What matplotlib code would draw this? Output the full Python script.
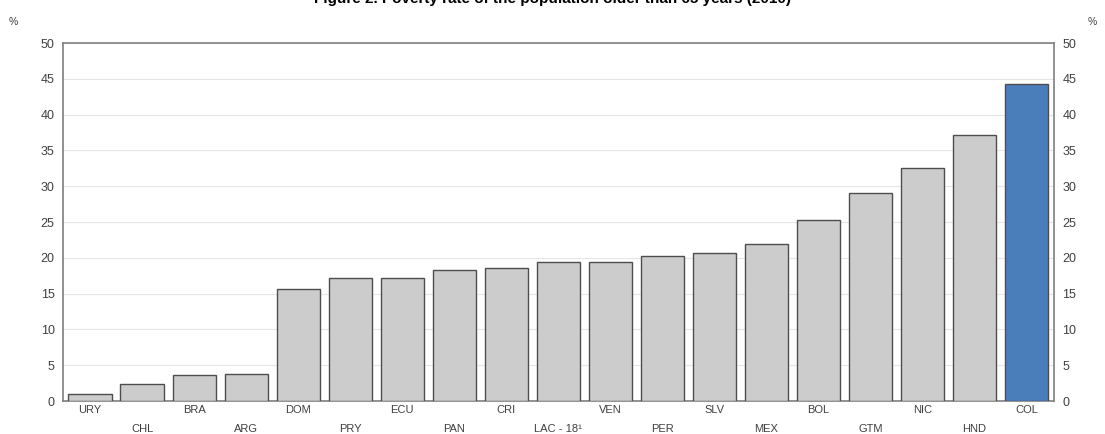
import numpy as np
import matplotlib.pyplot as plt

plt.rcParams['font.family'] = ['Liberation Sans', 'DejaVu Sans']

# -------------------- Data --------------------
countries = ['URY', 'CHL', 'BRA', 'ARG', 'DOM', 'PRY', 'ECU', 'PAN', 'CRI', 'LAC - 18¹',
             'VEN', 'PER', 'SLV', 'MEX', 'BOL', 'GTM', 'NIC', 'HND', 'COL']
poverty = [1.0, 2.4, 3.6, 3.8, 15.6, 17.2, 17.2, 18.3, 18.6, 19.4,
           19.4, 20.2, 20.7, 21.9, 25.3, 29.1, 32.6, 37.2, 44.3]
highlight = 'COL'
yticks = list(range(0, 55, 5))

# -------------------- Styles --------------------
COL_BAR = "#CCCCCC"
COL_HI = "#4A7EBB"
COL_EDGE = "#4D4D4D"
COL_TXT = "#404040"
COL_GRID = "#E6E6E6"
COL_FRAME = "#7F7F7F"

fig = plt.figure(figsize=(11.05, 4.34), dpi=100)
ax = fig.add_axes([63 / 1105, 33 / 434, 991 / 1105, 358 / 434])

x = np.arange(len(countries))
colors = [COL_HI if c == highlight else COL_BAR for c in countries]
ax.bar(x, poverty, width=0.83, color=colors, edgecolor=COL_EDGE, linewidth=1.0, zorder=3)

ax.set_ylim(0, 50)
ax.set_xlim(-0.52, len(countries) - 0.47)
ax.set_yticks(yticks)
ax.grid(axis='y', color=COL_GRID, linewidth=0.8, zorder=0)
ax.tick_params(axis='y', length=0, labelsize=9, labelcolor=COL_TXT, pad=6,
               labelleft=True, labelright=True)
for s in ax.spines.values():
    s.set_color(COL_FRAME)
    s.set_linewidth(1.2)

# staggered category labels (two rows)
ax.set_xticks(x)
ax.set_xticklabels([])
ax.tick_params(axis='x', length=0)
for i, c in enumerate(countries):
    dy = -6.8 if i % 2 == 0 else -19.8
    ax.annotate(c, (i, 0), xycoords='data', xytext=(0, dy),
                textcoords='offset points', ha='center', va='center',
                fontsize=8, color=COL_TXT, annotation_clip=False)

fig.text(13 / 1105, 1 - 22 / 434, '%', fontsize=7.5, color=COL_TXT, ha='center', va='center')
fig.text(1092 / 1105, 1 - 22 / 434, '%', fontsize=7.5, color=COL_TXT, ha='center', va='center')
fig.text(0.5, 1 + 1 / 434, 'Figure 2. Poverty rate of the population older than 65 years (2010)',
         fontsize=11, fontweight='bold', color='black', ha='center', va='center')

fig.savefig('out.png', dpi=100)
